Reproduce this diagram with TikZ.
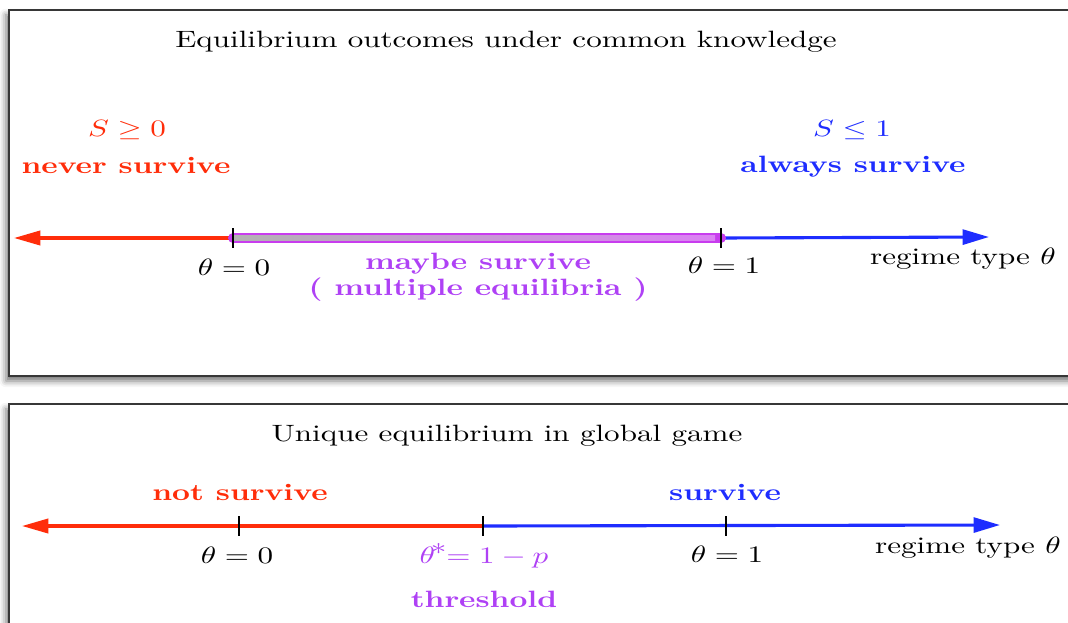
\documentclass[tikz,border=0pt]{standalone}
\usepackage{amsmath}
\usepackage{amssymb}
\usepackage{xcolor}
\definecolor{gsred}{RGB}{255,45,10}
\definecolor{gsblue}{RGB}{30,45,255}
\definecolor{gspurple}{RGB}{175,65,245}
\definecolor{gsband}{RGB}{200,60,238}
\definecolor{gsframe}{RGB}{55,55,55}
\usetikzlibrary{arrows.meta, positioning, shadows.blur}

\begin{document}
\begin{tikzpicture}[x=0.0113cm, y=-0.0113cm,
  panel/.style={draw=gsframe, line width=0.6pt, fill=white,
                blur shadow={shadow xshift=-1pt, shadow yshift=-1.6pt,
                             shadow blur radius=2pt, shadow opacity=55}},
  lbl/.style={anchor=base, inner sep=0pt, yscale=0.76},
  redarr/.style={-{Triangle[length=8.5pt, width=4.6pt]}, line width=1pt, draw=gsred},
  bluearr/.style={-{Triangle[length=8.5pt, width=4.8pt]}, line width=1pt, draw=gsblue},
  tickmark/.style={draw=black, line width=0.45pt},
  band/.style={line width=3.2pt, line cap=round, draw=gsband}
]
\useasboundingbox (0,0) rectangle (1068,622);
\clip (0,0) rectangle (1068,622);

% panels
\draw[panel] (9,10) rectangle (1100,376);
\draw[panel] (9,404) rectangle (1100,660);

% common knowledge
\node[lbl] (title1) at (506,47) {Equilibrium outcomes under common knowledge};
\node[lbl, text=gsred] (sneg) at (127,136) {$S \geq 0$};
\node[lbl, text=gsred, font=\bfseries] (never) at (126,173) {never survive};
\node[lbl, text=gsblue] (spos) at (852,136) {$S \leq 1$};
\node[lbl, text=gsblue, font=\bfseries] (always) at (853,172) {always survive};

\coordinate (a0) at (233,238);
\coordinate (a1) at (721,238);
\coordinate (aleft) at (14,238);
\coordinate (aright) at (989,237);

\draw[redarr] (a0) -- (aleft);
\draw[bluearr] (a1) -- (aright);
\draw[band] (a0) -- (a1);
\shade[left color=black!30, middle color=gsband!40!white, right color=gsband!65!white]
  ($(a0)+(1,-2.2)$) rectangle ($(a1)+(-6,2.2)$);
\draw[tickmark] (a0) ++(0,-10) -- ++(0,20);
\draw[tickmark] (a1) ++(0,-10) -- ++(0,20);

\node[lbl] (t0) at (234,275) {$\theta = 0$};
\node[lbl] (t1) at (724,273) {$\theta = 1$};
\node[lbl] (reg1) at (963,264) {regime type $\theta$};
\node[lbl, text=gspurple, font=\bfseries] (maybe) at (478,269) {maybe survive};
\node[lbl, text=gspurple, font=\bfseries] (multi) at (478,295) {( multiple equilibria )};

% global game
\node[lbl] (title2) at (507,441) {Unique equilibrium in global game};
\node[lbl, text=gsred, font=\bfseries] (notsurv) at (240,500) {not survive};
\node[lbl, text=gsblue, font=\bfseries] (surv) at (725,500) {survive};

\coordinate (b0) at (239,526);
\coordinate (bstar) at (483,526);
\coordinate (b1) at (726,526);
\coordinate (bleft) at (22,526);
\coordinate (bright) at (1000,525);

\draw[redarr] (bstar) -- (bleft);
\draw[bluearr] (bstar) -- (bright);
\draw[tickmark] (b0) ++(0,-10) -- ++(0,20);
\draw[tickmark] (bstar) ++(0,-10) -- ++(0,20);
\draw[tickmark] (b1) ++(0,-10) -- ++(0,20);

\node[lbl] (u0) at (237,563) {$\theta = 0$};
\node[lbl, text=gspurple] (ustar) at (484,563) {$\theta^{\!\textstyle *}\!\!= 1 - p$};
\node[lbl] (u1) at (727,562) {$\theta = 1$};
\node[lbl] (reg2) at (968,553) {regime type $\theta$};
\node[lbl, text=gspurple, font=\bfseries] (thresh) at (484,607) {threshold};
\end{tikzpicture}
\end{document}
